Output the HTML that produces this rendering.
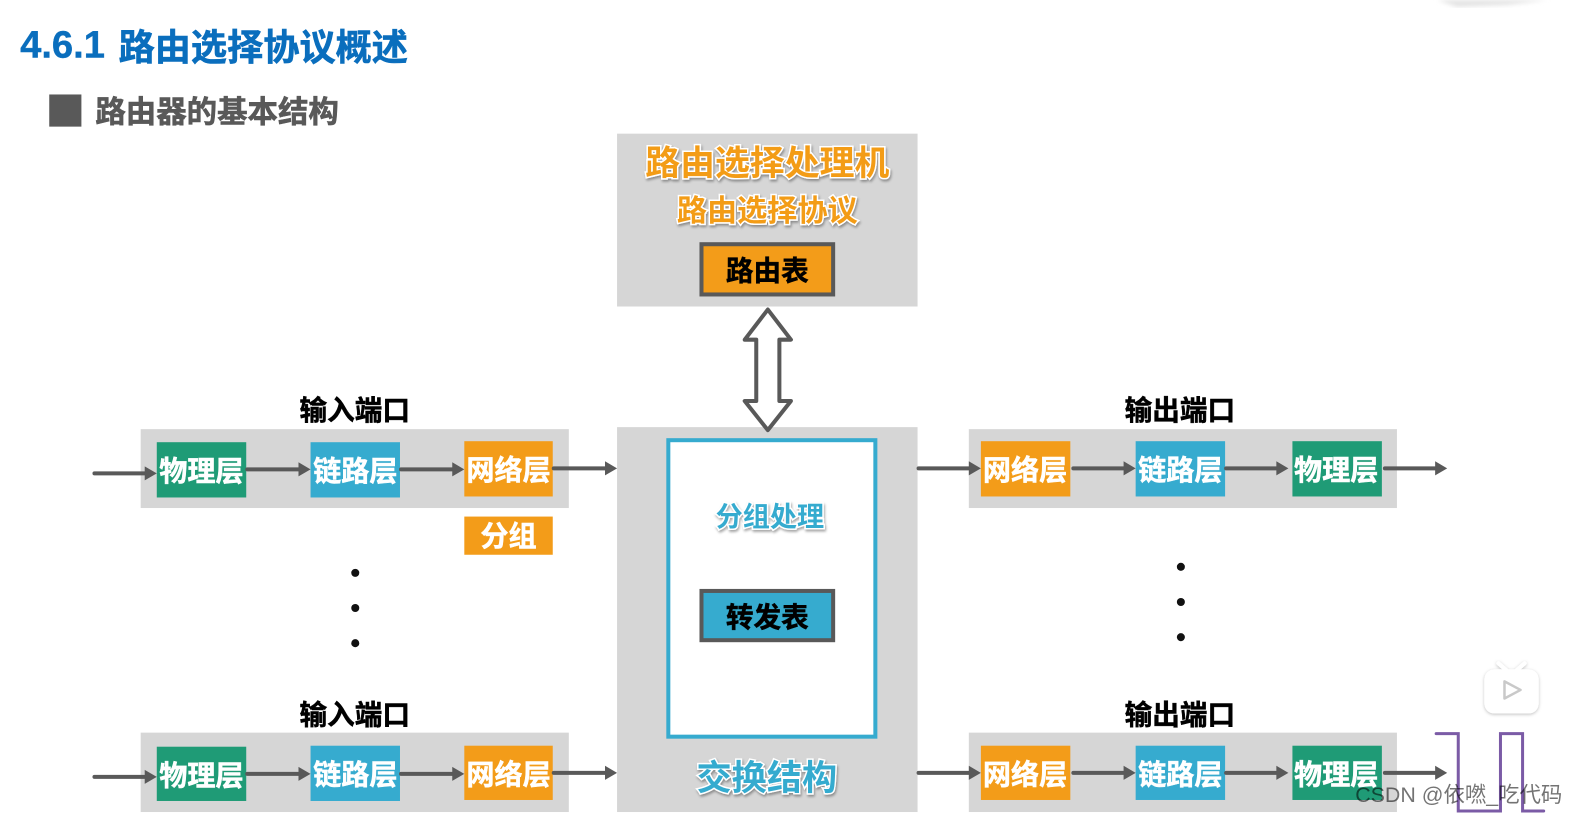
<!DOCTYPE html>
<html lang="zh-CN"><head><meta charset="utf-8"><title>路由器的基本结构</title>
<style>
html,body{margin:0;padding:0;background:#fff;width:1575px;height:817px;overflow:hidden}
svg{display:block}
text{font-family:"Liberation Sans","Noto Sans CJK SC",sans-serif;font-weight:700;text-anchor:middle;dominant-baseline:central}
.t{font-family:"Noto Sans CJK SC","Liberation Sans",sans-serif;}
.w{fill:#fff;font-size:28px;stroke:#fff;stroke-width:.5px}
.k{fill:#000;font-size:27.500px;stroke:#000;stroke-width:.5px}
.oo{fill:#f39c19;stroke:#fff;stroke-width:3px;paint-order:stroke;filter:url(#s)}
.ob{fill:#36abcf;stroke:#fff;stroke-width:3px;paint-order:stroke;filter:url(#s)}
.ln{stroke:#595959;stroke-width:4;stroke-linecap:round;fill:none}
</style></head><body>
<svg xmlns="http://www.w3.org/2000/svg" width="1575" height="817" viewBox="0 0 1575 817">
<defs>
<filter id="s" x="-10%" y="-20%" width="120%" height="150%"><feDropShadow dx="1" dy="2" stdDeviation="1.2" flood-color="#000" flood-opacity=".35"/></filter>
<filter id="s2" x="-20%" y="-20%" width="140%" height="140%"><feDropShadow dx="0" dy="1" stdDeviation="1.5" flood-color="#000" flood-opacity=".25"/></filter>
<filter id="b"><feGaussianBlur stdDeviation="2"/></filter>
</defs>
<rect width="1575" height="817" fill="#fff"/>
<g transform="scale(1.005)">
<path d="M1430 0H1540L1500 5 1450 7Z" fill="#e4e4e4" filter="url(#b)"/>
<text x="20" y="45" fill="#0a6ebd" stroke="#0a6ebd" stroke-width=".4" style="font-size:38px;text-anchor:start;font-family:'Liberation Sans',sans-serif">4.6.1</text>
<text class="t" x="118" y="45" fill="#0a6ebd" stroke="#0a6ebd" stroke-width=".6" style="font-size:36px;text-anchor:start">路由选择协议概述</text>
<rect x="49" y="94" width="32" height="32" fill="#595959"/>
<text class="t" x="216" y="109" fill="#595959" stroke="#595959" stroke-width=".6" style="font-size:30.300px">路由器的基本结构</text>

<rect x="614" y="133" width="299" height="172" fill="#d6d6d6"/>
<text class="t oo" x="763.500" y="160" style="font-size:34.700px">路由选择处理机</text>
<text class="t oo" x="763.500" y="207" style="font-size:30px">路由选择协议</text>
<rect x="698" y="243" width="131" height="50" fill="#f39c19" stroke="#595959" stroke-width="4"/>
<text class="t k" x="763.500" y="267">路由表</text>

<rect x="614" y="425" width="299" height="383" fill="#d6d6d6"/>
<path d="M764 308 787 338H775.500V399H787L764 428 741 399H752.500V338H741Z" fill="#fff" stroke="#595959" stroke-width="4" stroke-linejoin="round"/>
<rect x="665" y="438" width="206" height="295" fill="#fff" stroke="#36abcf" stroke-width="4"/>
<text class="t ob" x="766" y="512" style="font-size:27px">分组处理</text>
<rect x="698" y="588" width="131" height="49" fill="#36abcf" stroke="#595959" stroke-width="4"/>
<text class="t k" x="763.500" y="612">转发表</text>
<text class="t ob" x="763" y="771.500" style="font-size:35px">交换结构</text>

<text class="t k" x="353" y="406">输入端口</text>
<text class="t k" x="1174" y="406">输出端口</text>
<text class="t k" x="353" y="709">输入端口</text>
<text class="t k" x="1174" y="709">输出端口</text>

<rect x="140" y="427" width="426" height="78.500" fill="#d6d6d6"/>
<rect x="140" y="729" width="426" height="79" fill="#d6d6d6"/>
<rect x="964" y="427" width="426" height="78.500" fill="#d6d6d6"/>
<rect x="964" y="729" width="426" height="79" fill="#d6d6d6"/>

<g id="boxes">
<rect x="156" y="440" width="89" height="55" fill="#1f9b76"/><text class="t w" x="200.500" y="467">物理层</text>
<rect x="309" y="440" width="89" height="55" fill="#36abcf"/><text class="t w" x="353.500" y="467">链路层</text>
<rect x="462" y="439" width="88" height="55" fill="#f39c19"/><text class="t w" x="506" y="466">网络层</text>
<rect x="462" y="514" width="88" height="38" fill="#f39c19"/><text class="t w" x="506" y="532">分组</text>

<rect x="156" y="743" width="89" height="54" fill="#1f9b76"/><text class="t w" x="200.500" y="770">物理层</text>
<rect x="309" y="742" width="89" height="55" fill="#36abcf"/><text class="t w" x="353.500" y="769">链路层</text>
<rect x="462" y="742" width="88" height="54" fill="#f39c19"/><text class="t w" x="506" y="769">网络层</text>

<rect x="976" y="439" width="89" height="55" fill="#f39c19"/><text class="t w" x="1020" y="466">网络层</text>
<rect x="1130" y="439" width="89" height="55" fill="#36abcf"/><text class="t w" x="1174.500" y="466">链路层</text>
<rect x="1286" y="439" width="89" height="55" fill="#1f9b76"/><text class="t w" x="1329.500" y="466">物理层</text>

<rect x="976" y="742" width="89" height="54" fill="#f39c19"/><text class="t w" x="1020" y="769">网络层</text>
<rect x="1130" y="742" width="89" height="54" fill="#36abcf"/><text class="t w" x="1174.500" y="769">链路层</text>
<rect x="1286" y="742" width="89" height="54" fill="#1f9b76"/><text class="t w" x="1329.500" y="769">物理层</text>
</g>

<g fill="#595959">
<path class="ln" d="M94 471H146M246 467H299M399 467H452M551 466H604"/>
<path d="M144 464 156 471 144 478ZM297 460 309 467 297 474ZM450 460 462 467 450 474ZM602 459 614 466 602 473Z"/>
<path class="ln" d="M94 773H146M246 770H299M399 770H452M551 769H604"/>
<path d="M144 766 156 773 144 780ZM297 763 309 770 297 777ZM450 763 462 770 450 777ZM602 762 614 769 602 776Z"/>
<path class="ln" d="M914 466H966M1068 466H1120M1220 466H1272M1378 466H1430"/>
<path d="M964 459 976 466 964 473ZM1118 459 1130 466 1118 473ZM1270 459 1282 466 1270 473ZM1428 459 1440 466 1428 473Z"/>
<path class="ln" d="M914 769H966M1068 769H1120M1220 769H1272M1378 769H1430"/>
<path d="M964 762 976 769 964 776ZM1118 762 1130 769 1118 776ZM1270 762 1282 769 1270 776ZM1428 762 1440 769 1428 776Z"/>
</g>

<g fill="#111"><circle cx="353.500" cy="570" r="4"/><circle cx="353.500" cy="605" r="4"/><circle cx="353.500" cy="640" r="4"/>
<circle cx="1175" cy="564" r="4"/><circle cx="1175" cy="599" r="4"/><circle cx="1175" cy="634" r="4"/></g>

<path d="M1429 730H1451V807H1493V730H1515V807H1536" fill="none" stroke="#7b5ba6" stroke-width="3" stroke-linecap="round"/>

<g filter="url(#s2)">
<path d="M1491 660 1499 667M1517 660 1509 667" stroke="#fff" stroke-width="4" stroke-linecap="round"/>
<rect x="1477" y="666" width="54" height="44" rx="10" fill="#fff"/>
</g>
<path d="M1497 678 1513 686.500 1497 695Z" fill="#fff" stroke="#c9c9c9" stroke-width="2.500" stroke-linejoin="round"/>

<text x="1451.500" y="791" style="font-size:21.300px;font-weight:400;fill:#000;fill-opacity:.55;font-family:'Liberation Sans','Noto Sans CJK SC',sans-serif">CSDN @依嘫_吃代码</text>
</g>
</svg>
</body></html>
